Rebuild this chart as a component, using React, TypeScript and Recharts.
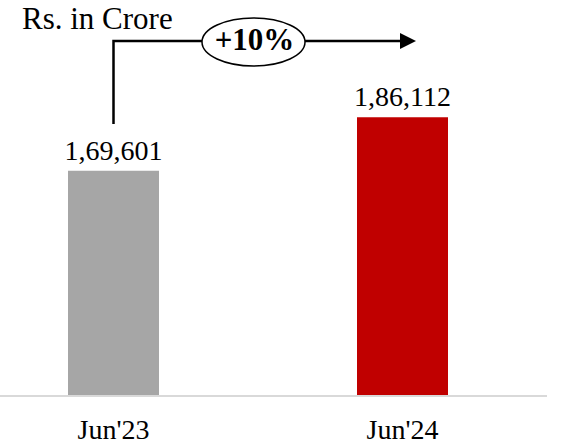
import { BarChart, Bar, XAxis, YAxis, Cell, LabelList } from "recharts";

const periods = ["Jun'23", "Jun'24"];
const amounts = [169601, 186112];
const barColors = ["#A6A6A6", "#C00000"];
const yRange = [100000, 222000];

const rows = periods.map((period, i) => ({ period, amount: amounts[i] }));

// Indian digit grouping: 1,69,601
function inr(v: number) {
  const s = String(Math.round(v));
  if (s.length <= 3) return s;
  const last = s.slice(-3);
  const rest = s.slice(0, -3).replace(/\B(?=(\d{2})+(?!\d))/g, ",");
  return rest + "," + last;
}

const growth = Math.round((amounts[1] / amounts[0] - 1) * 100);

const font = "'Liberation Serif', 'Times New Roman', serif";

export default function App() {
  return (
    <div style={{ position: "absolute", left: 0, top: 0, width: 571, height: 447 }}>
      <BarChart
        width={571}
        height={447}
        data={rows}
        margin={{ top: 1, right: 24, left: -31, bottom: 0 }}
        barSize={91}
      >
        <XAxis
          dataKey="period"
          axisLine={{ stroke: "#D9D9D9", strokeWidth: 2 }}
          tickLine={false}
          tickSize={0}
          tickMargin={23}
          height={51}
          tick={{ fontFamily: font, fontSize: 28, fill: "#000" }}
        />
        <YAxis hide domain={yRange} allowDataOverflow />
        <Bar dataKey="amount" isAnimationActive={false}>
          {rows.map((r, i) => (
            <Cell key={r.period} fill={barColors[i]} />
          ))}
          <LabelList
            dataKey="amount"
            position="top"
            offset={11}
            formatter={(v: number) => inr(v)}
            style={{ fontFamily: font, fontSize: 28, fill: "#000" }}
          />
        </Bar>
      </BarChart>

      {/* title + growth arrow */}
      <svg
        width={571}
        height={447}
        style={{ position: "absolute", left: 0, top: 0, pointerEvents: "none" }}
      >
        <text x={22} y={28.5} fontFamily={font} fontSize={31} fill="#000">
          Rs. in Crore
        </text>
        <polyline
          points="113.5,124 113.5,41 402,41"
          fill="none"
          stroke="#000"
          strokeWidth={2.5}
        />
        <polygon points="400,33 416,41 400,49" fill="#000" />
        <ellipse cx={253.5} cy={42} rx={51.5} ry={24} fill="#fff" stroke="#000" strokeWidth={1.5} />
        <text
          x={254.5}
          y={50}
          textAnchor="middle"
          fontFamily={font}
          fontSize={31}
          fontWeight="bold"
          fill="#000"
        >
          {`+${growth}%`}
        </text>
      </svg>
    </div>
  );
}
